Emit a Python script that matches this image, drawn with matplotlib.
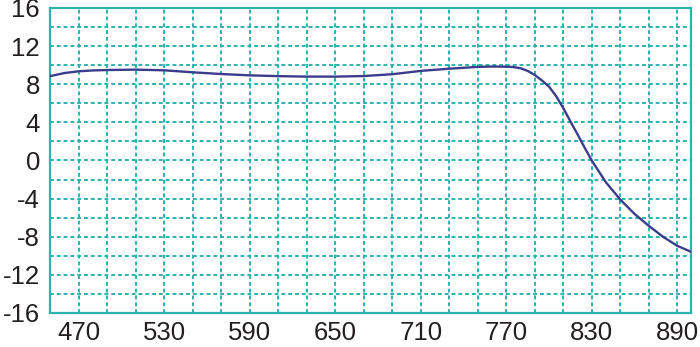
import numpy as np
import matplotlib
matplotlib.use('Agg')
import matplotlib.pyplot as plt

plt.rcParams['font.family'] = ['Liberation Sans', 'DejaVu Sans']
plt.rcParams['axes.unicode_minus'] = False

# curve
wavelength = [450, 460, 470, 480, 490, 510, 530, 550, 570, 590, 610, 630, 650,
              670, 690, 710, 730, 750, 760, 770, 775, 780, 785, 790, 795, 800,
              805, 810, 815, 820, 825, 830, 840, 850, 860, 870, 880, 890, 900]
value = [8.86, 9.18, 9.36, 9.45, 9.49, 9.53, 9.46, 9.25, 9.07, 8.93, 8.85,
         8.8, 8.8, 8.86, 9.05, 9.4, 9.63, 9.82, 9.86, 9.84, 9.8, 9.68, 9.4,
         8.97, 8.4, 7.75, 6.75, 5.5, 4.1, 2.75, 1.35, 0.0, -2.3, -4.1, -5.6,
         -6.85, -8.0, -8.95, -9.6]

x_ticks = [470, 530, 590, 650, 710, 770, 830, 890]
y_ticks = [-16, -12, -8, -4, 0, 4, 8, 12, 16]

TEAL = '#2db3ae'
LINE = '#3b3c8c'
TEXT = '#231f20'

fig = plt.figure(figsize=(7, 3.47), dpi=100)
ax = fig.add_axes([0.0721, 0.098, 0.9157, 0.879])

ax.plot(wavelength, value, color=LINE, lw=1.7, zorder=3)

ax.set_xlim(450, 900)
ax.set_ylim(-16, 16)
ax.set_xticks(x_ticks)
ax.set_yticks(y_ticks)
ax.set_xticks(np.arange(450, 901, 20)[1:], minor=True)
ax.set_yticks(np.arange(-16, 17, 2), minor=True)
ax.grid(which='both', color=TEAL, lw=1.4, ls=(0, (2, 1.5)))

for s in ax.spines.values():
    s.set_color(TEAL)
    s.set_linewidth(1.6)

ax.tick_params(which='both', length=0)
ax.tick_params(axis='x', pad=6, labelsize=18.5, labelcolor=TEXT)
ax.tick_params(axis='y', pad=7.5, labelsize=18.5, labelcolor=TEXT)

fig.savefig('out.png', dpi=100)
